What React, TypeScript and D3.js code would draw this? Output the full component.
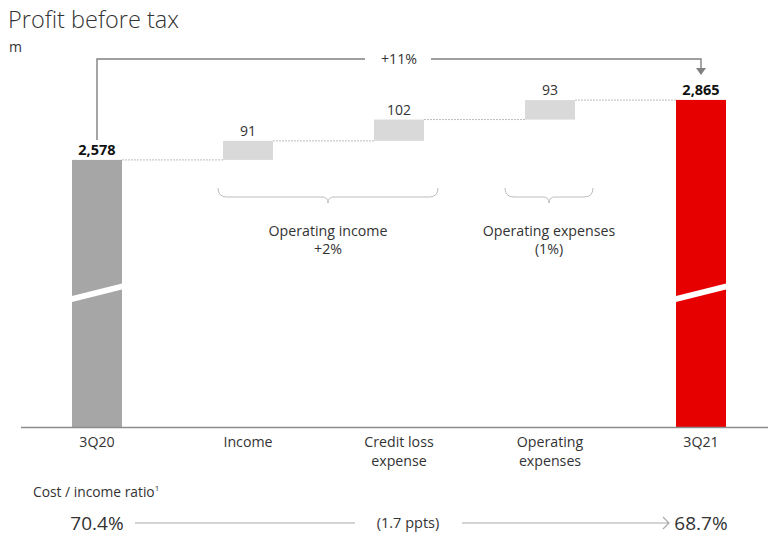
import React, { useEffect, useRef } from 'react';
import * as d3 from 'd3';

// chart data
const categories = ['3Q20', 'Income', 'Credit loss expense', 'Operating expenses', '3Q21'];
const categoryLines = [['3Q20'], ['Income'], ['Credit loss', 'expense'], ['Operating', 'expenses'], ['3Q21']];
const barKinds = ['total', 'delta', 'delta', 'delta', 'total'];
const values = [2578, 91, 102, 93, 2865];
const valueLabels = ['2,578', '91', '102', '93', '2,865'];
const breakValue = 1940;

const groupLabels = [
  { from: 'Income', to: 'Credit loss expense', lines: ['Operating income', '+2%'] },
  { from: 'Operating expenses', to: 'Operating expenses', lines: ['Operating expenses', '(1%)'] },
];
const changeLabel = '+11%';
const ratioTitle = 'Cost / income ratio';
const ratioStart = '70.4%';
const ratioChange = '(1.7 ppts)';
const ratioEnd = '68.7%';

const FONT = '"Open Sans", "Noto Sans", sans-serif';

const App: React.FC = () => {
  const svgRef = useRef<SVGSVGElement>(null);

  useEffect(() => {
    if (!svgRef.current) return;
    const width = 768;
    const height = 538;
    const svg = d3.select(svgRef.current).attr('width', width).attr('height', height);
    svg.selectAll('*').remove();

    const x = d3
      .scaleBand()
      .domain(categories)
      .range([41.8, 756.2])
      .paddingInner(0.669)
      .paddingOuter(0.2);
    const y = d3.scaleLinear().domain([1300, 2900]).range([427, 92.6]);
    const bw = x.bandwidth();
    const cx = (c: string) => (x(c) ?? 0) + bw / 2;

    // running totals for waterfall
    let running = 0;
    const bars = categories.map((c, i) => {
      let lo: number;
      let hi: number;
      if (barKinds[i] === 'total') {
        lo = 1300;
        hi = values[i];
        running = values[i];
      } else {
        lo = running;
        hi = running + values[i];
        running = hi;
      }
      return { c, i, lo, hi };
    });

    const barColor = (i: number) =>
      i === 0 ? '#a6a6a6' : i === categories.length - 1 ? '#e60000' : '#d9d9d9';

    // connectors
    bars.slice(0, -1).forEach((b, i) => {
      const next = bars[i + 1];
      svg
        .append('line')
        .attr('x1', (x(b.c) ?? 0) + bw)
        .attr('x2', x(next.c) ?? 0)
        .attr('y1', y(b.hi))
        .attr('y2', y(b.hi))
        .attr('stroke', '#bdbdbd')
        .attr('stroke-width', 1)
        .attr('stroke-dasharray', '2,1');
    });

    svg
      .selectAll('.bar')
      .data(bars)
      .enter()
      .append('rect')
      .attr('class', 'bar')
      .attr('x', (d) => x(d.c) ?? 0)
      .attr('y', (d) => y(d.hi))
      .attr('width', bw)
      .attr('height', (d) => y(d.lo) - y(d.hi))
      .attr('fill', (d) => barColor(d.i));

    // axis break on total bars
    bars
      .filter((b) => barKinds[b.i] === 'total')
      .forEach((b) => {
        const x0 = (x(b.c) ?? 0) - 1;
        const x1 = (x(b.c) ?? 0) + bw + 1;
        const yb = y(breakValue);
        svg
          .append('polygon')
          .attr(
            'points',
            `${x0},${yb + 3} ${x1},${yb - 10} ${x1},${yb - 4} ${x0},${yb + 9}`,
          )
          .attr('fill', '#fff');
      });

    // value labels
    svg
      .selectAll('.val')
      .data(bars)
      .enter()
      .append('text')
      .attr('x', (d) => cx(d.c))
      .attr('y', (d) => y(d.hi) - 5)
      .attr('text-anchor', 'middle')
      .attr('font-family', FONT)
      .attr('font-size', (d) => (barKinds[d.i] === 'total' ? 14.5 : 14))
      .attr('font-weight', (d) => (barKinds[d.i] === 'total' ? 700 : 400))
      .attr('fill', (d) => (barKinds[d.i] === 'total' ? '#111' : '#333'))
      .text((d) => valueLabels[d.i]);

    // baseline
    svg
      .append('line')
      .attr('x1', 21)
      .attr('x2', width)
      .attr('y1', y(1300) + 0.5)
      .attr('y2', y(1300) + 0.5)
      .attr('stroke', '#8c8c8c')
      .attr('stroke-width', 1.5);

    // category labels
    categories.forEach((c, i) => {
      const t = svg
        .append('text')
        .attr('text-anchor', 'middle')
        .attr('font-family', FONT)
        .attr('font-size', 14.2)
        .attr('fill', '#333');
      categoryLines[i].forEach((line, j) => {
        t.append('tspan')
          .attr('x', cx(c))
          .attr('y', 447 + j * 19)
          .text(line);
      });
    });

    // overall change arrow
    const xa = cx(categories[0]);
    const xb = cx(categories[categories.length - 1]);
    const topY = 59;
    const xm = (xa + xb) / 2;
    svg
      .append('path')
      .attr('d', `M${xa},${y(values[0]) - 20} V${topY} H${xm - 34}`)
      .attr('fill', 'none')
      .attr('stroke', '#808080')
      .attr('stroke-width', 1.4);
    svg
      .append('path')
      .attr('d', `M${xm + 32},${topY} H${xb} V${y(values[4]) - 30}`)
      .attr('fill', 'none')
      .attr('stroke', '#808080')
      .attr('stroke-width', 1.4);
    svg
      .append('path')
      .attr(
        'd',
        `M${xb - 5},${y(values[4]) - 32} L${xb + 5},${y(values[4]) - 32} L${xb},${y(values[4]) - 25} Z`,
      )
      .attr('fill', '#808080');
    svg
      .append('text')
      .attr('x', xm)
      .attr('y', topY + 5)
      .attr('text-anchor', 'middle')
      .attr('font-family', FONT)
      .attr('font-size', 14.2)
      .attr('fill', '#333')
      .text(changeLabel);

    // braces with group labels
    groupLabels.forEach((g) => {
      const x1 = (x(g.from) ?? 0) - 20 + (g.from === g.to ? 0 : 15);
      const x2 = (x(g.to) ?? 0) + bw + 18 - (g.from === g.to ? 0 : 4);
      const mid = (x1 + x2) / 2;
      const y0 = 188;
      const y1 = 197;
      const y2 = 203;
      svg
        .append('path')
        .attr(
          'd',
          `M${x1},${y0} Q${x1},${y1} ${x1 + 9},${y1} L${mid - 6},${y1} Q${mid},${y1} ${mid},${y2} Q${mid},${y1} ${mid + 6},${y1} L${x2 - 9},${y1} Q${x2},${y1} ${x2},${y0}`,
        )
        .attr('fill', 'none')
        .attr('stroke', '#bdbdbd')
        .attr('stroke-width', 1);
      const t = svg
        .append('text')
        .attr('text-anchor', 'middle')
        .attr('font-family', FONT)
        .attr('font-size', 14.2)
        .attr('fill', '#333');
      g.lines.forEach((line, j) => {
        t.append('tspan')
          .attr('x', mid)
          .attr('y', 236 + j * 18)
          .text(line);
      });
    });

    // title
    svg
      .append('text')
      .attr('x', 8)
      .attr('y', 28)
      .attr('font-family', FONT)
      .attr('font-size', 23.5)
      .attr('font-weight', 300)
      .attr('fill', '#333')
      .text('Profit before tax');
    svg
      .append('text')
      .attr('x', 9)
      .attr('y', 52)
      .attr('font-family', FONT)
      .attr('font-size', 14)
      .attr('fill', '#333')
      .text('m');

    // cost / income ratio row
    const rt = svg
      .append('text')
      .attr('x', 33)
      .attr('y', 497)
      .attr('font-family', FONT)
      .attr('font-size', 13.8)
      .attr('fill', '#333')
      .text(ratioTitle);
    rt.append('tspan').attr('font-size', 8).attr('dy', -6).text('1');

    const rowY = 523;
    svg
      .append('text')
      .attr('x', cx(categories[0]))
      .attr('y', rowY + 6.5)
      .attr('text-anchor', 'middle')
      .attr('font-family', FONT)
      .attr('font-size', 19)
      .attr('fill', '#333')
      .text(ratioStart);
    svg
      .append('text')
      .attr('x', cx(categories[4]))
      .attr('y', rowY + 6.5)
      .attr('text-anchor', 'middle')
      .attr('font-family', FONT)
      .attr('font-size', 19)
      .attr('fill', '#333')
      .text(ratioEnd);
    svg
      .append('text')
      .attr('x', 408)
      .attr('y', rowY + 5)
      .attr('text-anchor', 'middle')
      .attr('font-family', FONT)
      .attr('font-size', 14.5)
      .attr('fill', '#333')
      .text(ratioChange);
    svg
      .append('path')
      .attr('d', `M135,${rowY} H355 M462,${rowY} H668 M663,${rowY - 6} L669,${rowY} L663,${rowY + 6}`)
      .attr('fill', 'none')
      .attr('stroke', '#aaaaaa')
      .attr('stroke-width', 1.2);
  }, []);

  return (
    <svg
      ref={svgRef}
      style={{ display: 'block', position: 'fixed', top: 0, left: 0, background: '#fff' }}
    ></svg>
  );
};

export default App;
